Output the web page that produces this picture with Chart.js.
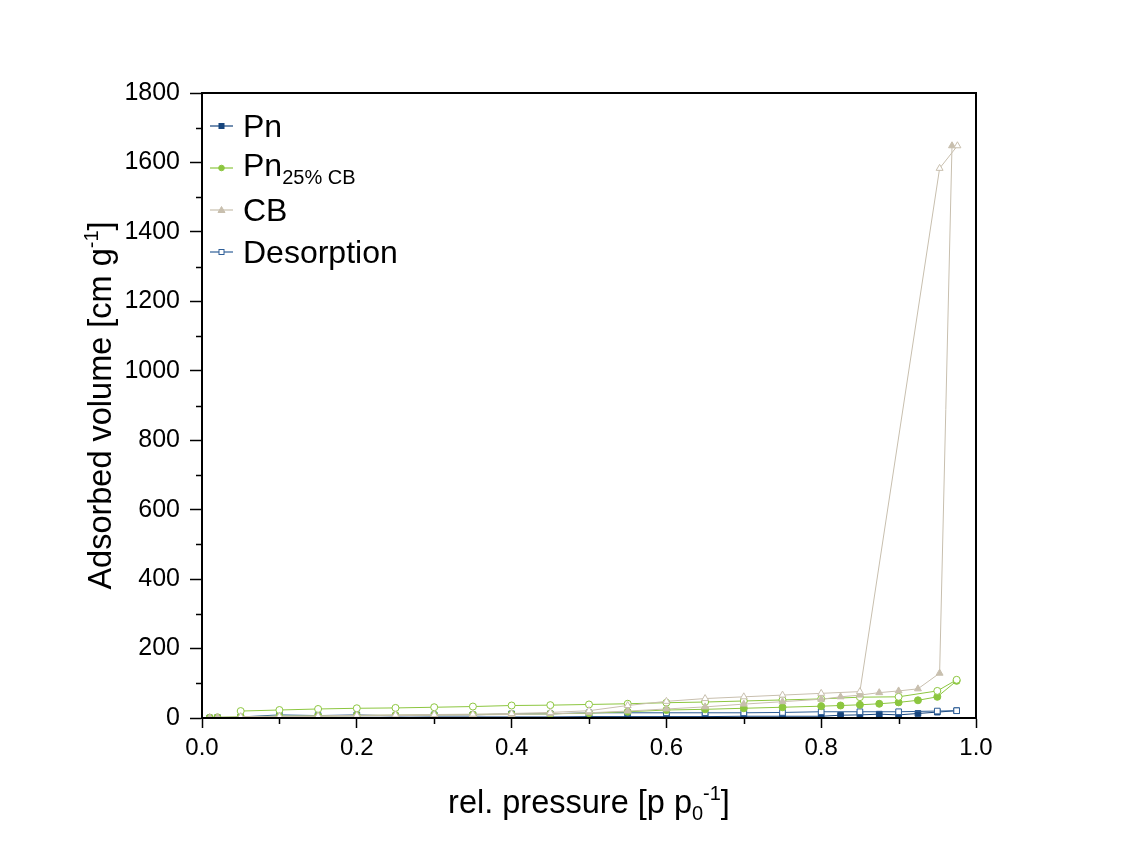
<!DOCTYPE html>
<html>
<head>
<meta charset="utf-8">
<script src="https://cdn.jsdelivr.net/npm/chart.js@4.4.1/dist/chart.umd.min.js"></script>
<style>
  html,body{margin:0;padding:0;background:#fff;}
  #wrap{position:relative;width:1132px;height:861px;}
  #legend{position:absolute;left:210px;top:105px;font-family:"Liberation Sans",Arial,sans-serif;font-size:32px;color:#000;}
  .row{height:42px;display:flex;align-items:center;}
  .row svg{margin-right:9px;}
  sub{font-size:20px;vertical-align:-8px;}
</style>
</head>
<body>
<div id="wrap">
  <canvas id="c" width="1132" height="861"></canvas>
  <div id="legend"></div>
</div>
<script>
// ---- data ----
const adsX = [0.01,0.02,0.05,0.10,0.15,0.20,0.25,0.30,0.35,0.40,0.45,0.50,0.55,0.60,0.65,0.70,0.75,0.80,0.825,0.85,0.875,0.90,0.925,0.95,0.975];
const pnAds = [0,1,1,2,2,2,2,3,3,3,3,4,4,4,4,5,5,5,8,9,11,9,13,17,21];
const pnCbAds = [1,2,4,5,6,7,8,9,10,11,12,14,18,23,25,28,31,34,36,38,41,45,51,61,107];
const cbAdsX = [0.01,0.02,0.05,0.10,0.15,0.20,0.25,0.30,0.35,0.40,0.45,0.50,0.55,0.60,0.65,0.70,0.75,0.80,0.825,0.85,0.875,0.90,0.925,0.953,0.969];
const cbAds = [1,2,3,4,5,6,7,8,9,10,12,15,20,26,32,40,47,54,61,66,73,78,84,129,1648];

const desX = [0.975,0.95,0.90,0.85,0.80,0.75,0.70,0.65,0.60,0.55,0.50,0.45,0.40,0.35,0.30,0.25,0.20,0.15,0.10,0.05];
const pnDes = [21,20,18,18,18,16,15,15,15,15,15,12,12,9,9,6,9,7,9,3];
const pnCbDes = [110,78,61,60,55,52,49,46,44,41,39,37,36,33,31,29,28,26,23,20];
const cbDesX = [0.976,0.953,0.85,0.80,0.75,0.70,0.65,0.60,0.55,0.50,0.45,0.40,0.35,0.30,0.25,0.20,0.15,0.10,0.05];
const cbDes = [1648,1583,76,71,66,61,56,48,36,21,16,13,11,10,9,8,6,5,4];

const xTickLabels = ["0.0","0.2","0.4","0.6","0.8","1.0"];
const yTickLabels = ["0","200","400","600","800","1000","1200","1400","1600","1800"];
const legendNames = ["Pn","Pn<sub>25% CB</sub>","CB","Desorption"];

// ---- styles ----
const C_PN = '#17457d', C_GR = '#8cc63f', C_CB = '#c8bfae', C_DES = '#2f5f98';
const FONT = '"Liberation Sans", Arial, sans-serif';

function pts(xs, ys){ return xs.map((x,i)=>({x:x, y:ys[i]})); }
function ds(label, xs, ys, color, style, filled, r){
  return {label, data: pts(xs,ys), showLine:true, borderColor:color, borderWidth:1,
    pointStyle:style, pointRadius:r, pointBorderWidth:1, pointBorderColor:color,
    pointBackgroundColor: filled ? color : '#fff', backgroundColor: filled?color:'#fff', tension:0};
}

const datasets = [
  ds('CB desorption', cbDesX, cbDes, C_CB, 'triangle', false, 4),
  ds('CB', cbAdsX, cbAds, C_CB, 'triangle', true, 4),
  ds('Pn25 desorption', desX, pnCbDes, C_GR, 'circle', false, 3.5),
  ds('Pn25', adsX, pnCbAds, C_GR, 'circle', true, 3.5),
  ds('Desorption', desX, pnDes, C_DES, 'rect', false, 4),
  ds('Pn', adsX, pnAds, C_PN, 'rect', true, 4),
];

const frame = {
  id:'frame',
  afterDraw(chart){
    const {ctx, chartArea:a, scales:{x,y}} = chart;
    ctx.save();
    ctx.strokeStyle = '#000'; ctx.lineWidth = 2;
    ctx.strokeRect(a.left, a.top, a.right-a.left, a.bottom-a.top);
    // minor ticks
    ctx.lineWidth = 1.5;
    ctx.beginPath();
    for (let v=100; v<1800; v+=200){ const py = Math.round(y.getPixelForValue(v))+0.5; ctx.moveTo(a.left-6, py); ctx.lineTo(a.left, py); }
    for (let v=0.1; v<1; v+=0.2){ const px = Math.round(x.getPixelForValue(v))+0.5; ctx.moveTo(px, a.bottom); ctx.lineTo(px, a.bottom+6); }
    ctx.stroke();
    // titles
    ctx.fillStyle = '#000';
    ctx.textBaseline = 'alphabetic';
    const big = 32.5, small = 20;
    function pieces(list){
      let w = 0;
      list.forEach(p=>{ ctx.font = p.s+'px '+FONT; p.w = ctx.measureText(p.t).width; w += p.w; });
      return w;
    }
    function draw(list, start){
      let cx = start;
      list.forEach(p=>{ ctx.font = p.s+'px '+FONT; ctx.fillText(p.t, cx, p.dy); cx += p.w; });
    }
    const xt = [{t:'rel. pressure [p p', s:big, dy:0},{t:'0', s:small, dy:7},{t:'-1', s:small, dy:-13},{t:']', s:big, dy:0}];
    let w = pieces(xt);
    ctx.save();
    ctx.translate((a.left+a.right)/2, 813);
    draw(xt, -w/2);
    ctx.restore();
    const yt = [{t:'Adsorbed volume [cm g', s:big, dy:0},{t:'-1', s:small, dy:-13},{t:']', s:big, dy:0}];
    w = pieces(yt);
    ctx.save();
    ctx.translate(111, (a.top+a.bottom)/2);
    ctx.rotate(-Math.PI/2);
    draw(yt, -w/2);
    ctx.restore();
    ctx.restore();
  }
};

const chart = new Chart(document.getElementById('c'), {
  type:'scatter',
  data:{datasets},
  plugins:[frame],
  options:{
    responsive:false, animation:false,
    layout:{padding:{left:0, top:93, right:156, bottom:0}},
    plugins:{legend:{display:false}, tooltip:{enabled:false}},
    scales:{
      x:{type:'linear', min:0, max:1,
        afterFit(s){ s.height = 143; },
        ticks:{stepSize:0.2, color:'#000', font:{family:FONT, size:24}, padding:6,
          callback:(v)=>{ const i = Math.round(v/0.2); return xTickLabels[i] ?? ''; }},
        grid:{drawOnChartArea:false, tickLength:10, tickWidth:1.5, tickColor:'#000'},
        border:{display:true, color:'#000', width:2}
      },
      y:{type:'linear', min:0, max:1800,
        afterFit(s){ s.width = 202; },
        ticks:{stepSize:200, color:'#000', font:{family:FONT, size:25}, padding:10,
          callback:(v)=>{ const i = Math.round(v/200); return yTickLabels[i] ?? ''; }},
        grid:{drawOnChartArea:false, tickLength:12, tickWidth:1.5, tickColor:'#000'},
        border:{display:true, color:'#000', width:2}
      }
    }
  }
});

const legendStyles = [
  {c:C_PN, shape:'rect', fill:C_PN},
  {c:C_GR, shape:'circle', fill:C_GR},
  {c:C_CB, shape:'tri', fill:C_CB},
  {c:C_DES, shape:'rect', fill:'#fff'},
];
const leg = document.getElementById('legend');
legendNames.forEach((name,i)=>{
  const st = legendStyles[i];
  let m = '';
  if (st.shape==='rect') m = `<rect x="9" y="7.5" width="5" height="5" fill="${st.fill}" stroke="${st.c}" stroke-width="1"/>`;
  else if (st.shape==='circle') m = `<circle cx="11.5" cy="10" r="2.8" fill="${st.fill}" stroke="${st.c}"/>`;
  else m = `<polygon points="11.5,6.5 15,12.5 8,12.5" fill="${st.fill}" stroke="${st.c}"/>`;
  leg.innerHTML += `<div class="row"><svg width="24" height="20"><line x1="0" y1="10" x2="23" y2="10" stroke="${st.c}" stroke-width="1.2"/>${m}</svg><span>${name}</span></div>`;
});
</script>
</body>
</html>
